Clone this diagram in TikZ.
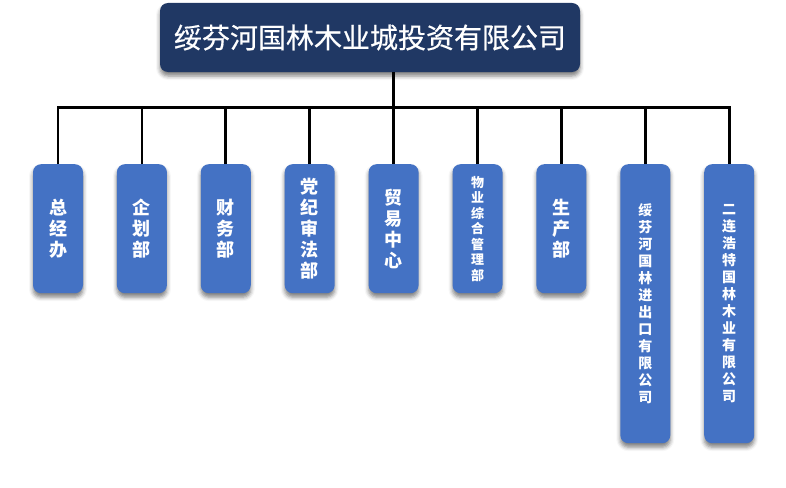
\documentclass[tikz,border=0pt]{standalone}
\usepackage{fontspec}
\newfontfamily\cjk{Noto Sans CJK SC}
\newfontfamily\cjkhead{Noto Sans CJK SC}[FakeBold=0.6]
\usepackage{tikz}
\usetikzlibrary{positioning}
\usetikzlibrary{shadows.blur}
\definecolor{navy}{HTML}{203864}
\definecolor{unitblue}{HTML}{4472C4}

\begin{document}
\begin{tikzpicture}[x=1pt, y=-1pt,
    head/.style={rectangle, rounded corners=8pt, fill=navy, text=white,
      minimum width=420pt, minimum height=69pt, inner sep=0pt,
      font=\cjkhead\fontsize{28pt}{33pt}\selectfont,
      blur shadow={shadow xshift=0pt, shadow yshift=-4pt,
        shadow opacity=50, shadow blur radius=4pt}},
    dept/.style={rectangle, rounded corners=8pt, fill=unitblue, text=white,
      minimum width=50pt, minimum height=129pt, inner sep=0pt, align=center,
      font=\cjk\bfseries\fontsize{18pt}{21pt}\selectfont,
      blur shadow={shadow xshift=0pt, shadow yshift=-4pt,
        shadow opacity=50, shadow blur radius=4pt}},
    deptsmall/.style={font=\cjk\bfseries\fontsize{13pt}{15.5pt}\selectfont},
    depttall/.style={minimum height=279pt,
      font=\cjk\bfseries\fontsize{14pt}{17pt}\selectfont},
    link/.style={draw=black, line width=2.7pt}]
      \useasboundingbox (0,0) rectangle (786,487);
      % Define nodes
      \node[head] (top) at (370,37.5) {绥芬河国林木业城投资有限公司};
      \node[dept, anchor=north] (gm) at (58,164) {总\\经\\办};
      \node[dept, right=33.5pt of gm.north east, anchor=north west] (plan) {企\\划\\部};
      \node[dept, right=33.5pt of plan.north east, anchor=north west] (fin) {财\\务\\部};
      \node[dept, right=33.5pt of fin.north east, anchor=north west] (law) {党\\纪\\审\\法\\部};
      \node[dept, right=33.5pt of law.north east, anchor=north west] (trade) {贸\\易\\中\\心};
      \node[dept, deptsmall, right=33.5pt of trade.north east, anchor=north west] (prop) {物\\业\\综\\合\\管\\理\\部};
      \node[dept, right=33.5pt of prop.north east, anchor=north west] (prod) {生\\产\\部};
      \node[dept, depttall, right=33.5pt of prod.north east, anchor=north west] (imex) {绥\\芬\\河\\国\\林\\进\\出\\口\\有\\限\\公\\司};
      \node[dept, depttall, right=33.5pt of imex.north east, anchor=north west] (elh) {二\\连\\浩\\特\\国\\林\\木\\业\\有\\限\\公\\司};
      \coordinate (bus) at (0,107.5);
      % Connect nodes
      \draw[link] (top.south -| trade.north) -- (trade.north);
      \draw[link] (gm.north) |- (elh.north |- bus) -- (elh.north);
      \draw[link] (plan.north) -- (plan.north |- bus);
      \draw[link] (fin.north) -- (fin.north |- bus);
      \draw[link] (law.north) -- (law.north |- bus);
      \draw[link] (prop.north) -- (prop.north |- bus);
      \draw[link] (prod.north) -- (prod.north |- bus);
      \draw[link] (imex.north) -- (imex.north |- bus);
    \end{tikzpicture}
\end{document}
